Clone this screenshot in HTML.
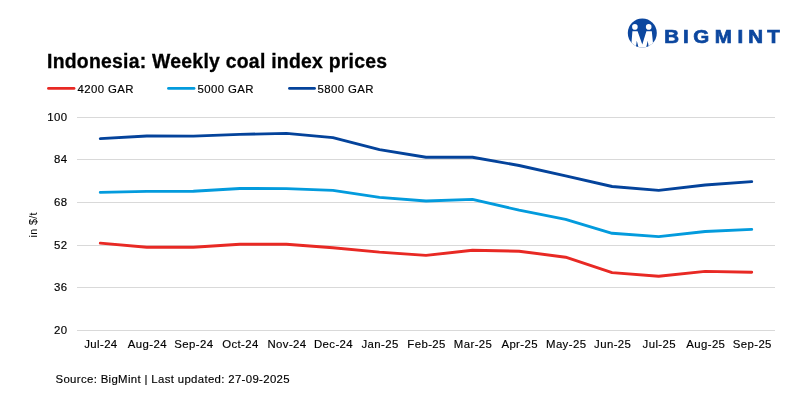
<!DOCTYPE html>
<html><head><meta charset="utf-8"><title>Indonesia: Weekly coal index prices</title>
<style>
html,body{margin:0;padding:0;background:#fff;}
body{width:800px;height:400px;overflow:hidden;position:relative;font-family:"Liberation Sans",sans-serif;}
svg{position:absolute;left:0;top:0;}
svg text{font-family:"Liberation Sans",sans-serif;}
.title{font-size:19.4px;font-weight:bold;fill:#000;letter-spacing:0.25px;stroke:#000;stroke-width:0.3px;}
.lbl text,.leg text,.src{font-size:11.4px;fill:#000;letter-spacing:0.4px;stroke:#000;stroke-width:0.15px;}
.grid line{stroke:#d9d9d9;stroke-width:1;}
.series polyline{fill:none;stroke-width:2.9;stroke-linecap:round;stroke-linejoin:round;}
.src{letter-spacing:0.34px !important;}
.leg line{stroke-width:2.9;stroke-linecap:round;}
</style></head><body>
<svg width="800" height="400" viewBox="0 0 800 400">
<g class="logo">
<clipPath id="lc"><circle cx="642.3" cy="33" r="14.5"/></clipPath>
<g clip-path="url(#lc)">
<rect x="626" y="17" width="33" height="33" fill="#0c479f"/>
<path d="M632.4 31.3 L637.6 31.3 L642.3 44.6 L646.4 31.3 L651.8 31.3 L653.6 49 L631 49 Z" fill="#fff"/>
<path d="M635.7 48.5 L636.8 40.8 L638.8 48.5 Z M645.9 48.5 L647.8 40.8 L648.9 48.5 Z" fill="#0c479f"/>
<circle cx="634.9" cy="26.9" r="2.8" fill="#fff"/>
<circle cx="648.7" cy="26.9" r="2.8" fill="#fff"/>
</g>
<text transform="translate(665.3 43) scale(1.08 1)" x="-0.9 16.35 25.8 45.9 66.95 76.9 94.3" y="0" font-size="19" font-weight="bold" fill="#0c479f" stroke="#0c479f" stroke-width="0.7">BIGMINT</text>
</g>
<text class="title" x="47" y="68">Indonesia: Weekly coal index prices</text>
<g class="leg">
<line x1="48.5" x2="74" y1="88.4" y2="88.4" stroke="#e82924"/><text x="77.5" y="93">4200 GAR</text>
<line x1="168.5" x2="194" y1="88.4" y2="88.4" stroke="#039bdd"/><text x="197.5" y="93">5000 GAR</text>
<line x1="289.5" x2="314.5" y1="88.4" y2="88.4" stroke="#04439b"/><text x="317.5" y="93">5800 GAR</text>
</g>
<g class="grid"><line x1="77" x2="775" y1="117.5" y2="117.5"/><line x1="77" x2="775" y1="159.5" y2="159.5"/><line x1="77" x2="775" y1="202.5" y2="202.5"/><line x1="77" x2="775" y1="245.5" y2="245.5"/><line x1="77" x2="775" y1="287.5" y2="287.5"/><line x1="77" x2="775" y1="330.5" y2="330.5"/></g>
<g class="lbl"><text x="67.5" y="121.2" text-anchor="end">100</text><text x="67.5" y="163.2" text-anchor="end">84</text><text x="67.5" y="206.2" text-anchor="end">68</text><text x="67.5" y="249.2" text-anchor="end">52</text><text x="67.5" y="291.2" text-anchor="end">36</text><text x="67.5" y="334.2" text-anchor="end">20</text><text x="100.9" y="348" text-anchor="middle">Jul-24</text><text x="147.4" y="348" text-anchor="middle">Aug-24</text><text x="193.9" y="348" text-anchor="middle">Sep-24</text><text x="240.5" y="348" text-anchor="middle">Oct-24</text><text x="287.0" y="348" text-anchor="middle">Nov-24</text><text x="333.5" y="348" text-anchor="middle">Dec-24</text><text x="380.1" y="348" text-anchor="middle">Jan-25</text><text x="426.6" y="348" text-anchor="middle">Feb-25</text><text x="473.1" y="348" text-anchor="middle">Mar-25</text><text x="519.7" y="348" text-anchor="middle">Apr-25</text><text x="566.2" y="348" text-anchor="middle">May-25</text><text x="612.7" y="348" text-anchor="middle">Jun-25</text><text x="659.3" y="348" text-anchor="middle">Jul-25</text><text x="705.8" y="348" text-anchor="middle">Aug-25</text><text x="752.3" y="348" text-anchor="middle">Sep-25</text>
<text transform="translate(36.8,224.8) rotate(-90)" text-anchor="middle" style="font-size:10.8px;letter-spacing:0.3px;stroke-width:0">in $/t</text>
</g>
<g class="series">
<polyline stroke="#e82924" points="100.3,243.1 146.8,247.3 193.3,247.3 239.9,244.3 286.4,244.3 332.9,247.7 379.5,252.1 426.0,255.4 472.5,250.3 519.1,251.2 565.6,257.2 612.1,272.6 658.7,276.2 705.2,271.4 751.7,272.3"/>
<polyline stroke="#039bdd" points="100.3,192.4 146.8,191.4 193.3,191.2 239.9,188.5 286.4,188.6 332.9,190.4 379.5,197.4 426.0,201.0 472.5,199.4 519.1,210.2 565.6,219.4 612.1,233.3 658.7,236.6 705.2,231.5 751.7,229.4"/>
<polyline stroke="#04439b" points="100.3,138.6 146.8,136.0 193.3,136.1 239.9,134.4 286.4,133.4 332.9,137.6 379.5,149.6 426.0,157.2 472.5,157.2 519.1,165.5 565.6,175.8 612.1,186.5 658.7,190.4 705.2,185.0 751.7,181.6"/>
</g>
<text class="src" x="55.5" y="383">Source: BigMint | Last updated: 27-09-2025</text>
</svg>
</body></html>
